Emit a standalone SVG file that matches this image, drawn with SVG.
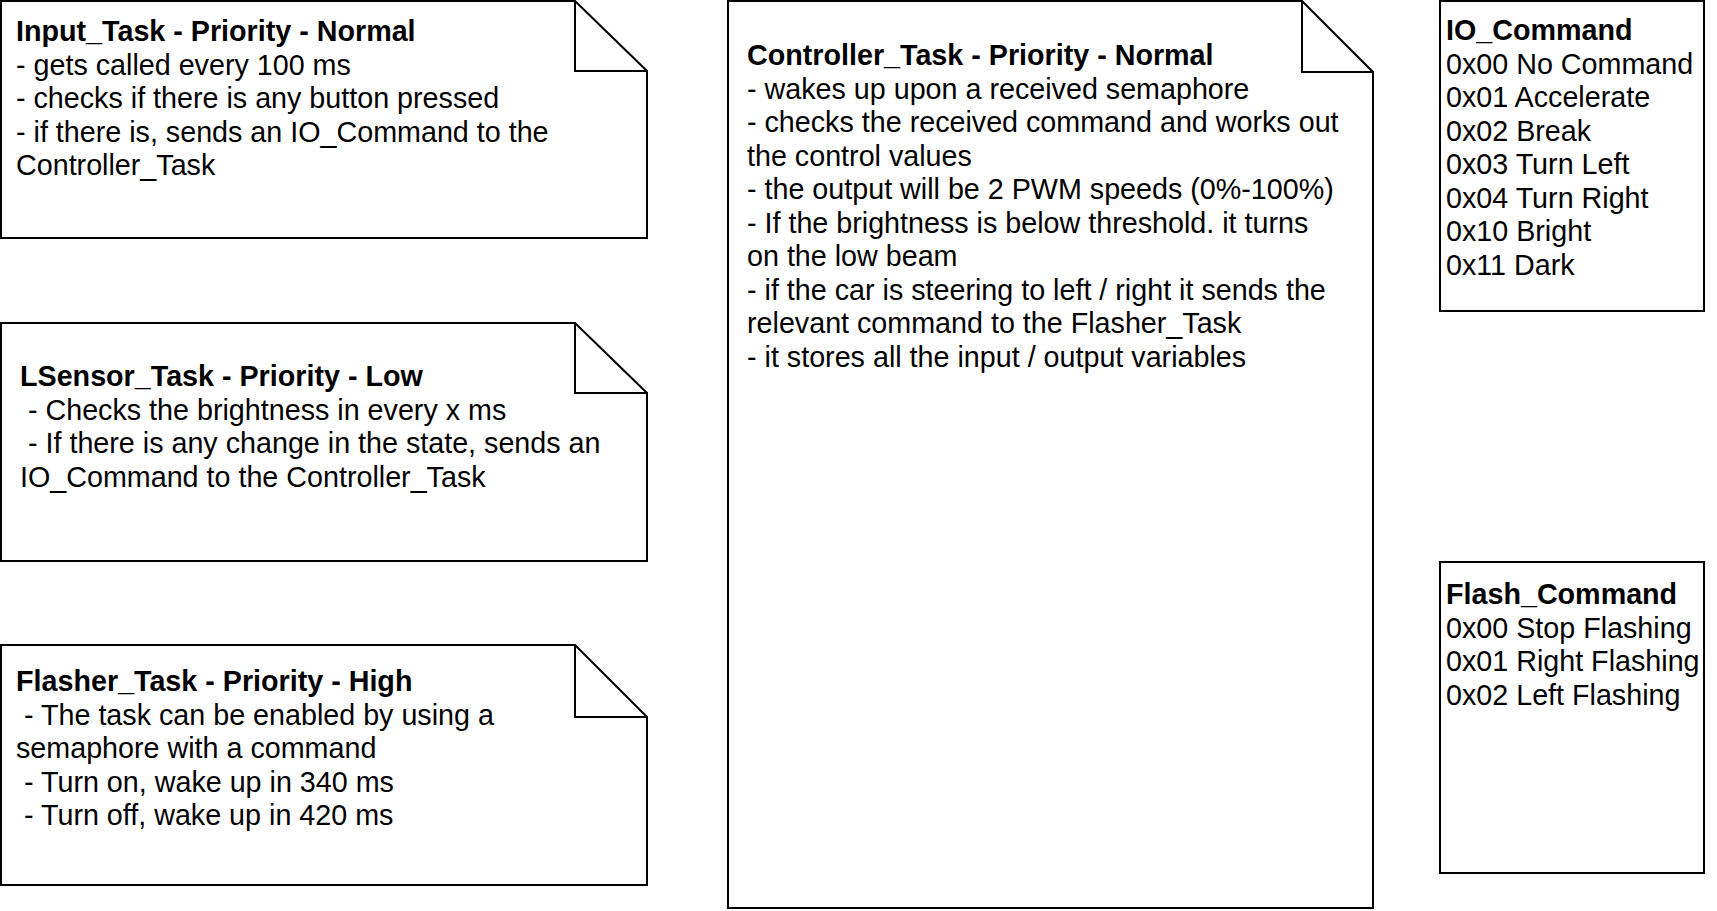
<svg xmlns="http://www.w3.org/2000/svg" width="1717" height="911" viewBox="0 0 1717 911">
<style>
.shape{fill:#fff;stroke:#000;stroke-width:2;stroke-linejoin:miter}
.fold{fill:none;stroke:#000;stroke-width:2}
text{font-family:"Liberation Sans",Arial,Helvetica,sans-serif;font-size:28.7px;fill:#000;white-space:pre}
.b{font-weight:bold}
</style>
<rect width="1717" height="911" fill="#fff"/>
<g id="connectors"></g>
<g id="input_task">
<path class="shape" d="M1,1 H575 L647,71 V238 H1 Z"/>
<path class="fold" d="M575,1 V71 H647"/>
<text x="16" y="41" class="b">Input_Task - Priority - Normal</text>
<text x="16" y="74.5">- gets called every 100 ms</text>
<text x="16" y="108">- checks if there is any button pressed</text>
<text x="16" y="141.5">- if there is, sends an IO_Command to the</text>
<text x="16" y="175">Controller_Task</text>
</g>
<g id="lsensor_task">
<path class="shape" d="M1,323 H575 L647,393 V561 H1 Z"/>
<path class="fold" d="M575,323 V393 H647"/>
<text x="20" y="386" class="b">LSensor_Task - Priority - Low</text>
<text x="20" y="419.5" xml:space="preserve"> - Checks the brightness in every x ms</text>
<text x="20" y="453" xml:space="preserve"> - If there is any change in the state, sends an</text>
<text x="20" y="486.5">IO_Command to the Controller_Task</text>
</g>
<g id="flasher_task">
<path class="shape" d="M1,645 H575 L647,717 V885 H1 Z"/>
<path class="fold" d="M575,645 V717 H647"/>
<text x="16" y="691" class="b">Flasher_Task - Priority - High</text>
<text x="16" y="724.5" xml:space="preserve"> - The task can be enabled by using a</text>
<text x="16" y="758">semaphore with a command</text>
<text x="16" y="791.5" xml:space="preserve"> - Turn on, wake up in 340 ms</text>
<text x="16" y="825" xml:space="preserve"> - Turn off, wake up in 420 ms</text>
</g>
<g id="controller_task">
<path class="shape" d="M728,1 H1302 L1373,72 V908 H728 Z"/>
<path class="fold" d="M1302,1 V72 H1373"/>
<text x="747" y="65" class="b">Controller_Task - Priority - Normal</text>
<text x="747" y="98.5">- wakes up upon a received semaphore</text>
<text x="747" y="132">- checks the received command and works out</text>
<text x="747" y="165.5">the control values</text>
<text x="747" y="199">- the output will be 2 PWM speeds (0%-100%)</text>
<text x="747" y="232.5">- If the brightness is below threshold. it turns</text>
<text x="747" y="266">on the low beam</text>
<text x="747" y="299.5">- if the car is steering to left / right it sends the</text>
<text x="747" y="333">relevant command to the Flasher_Task</text>
<text x="747" y="366.5">- it stores all the input / output variables</text>
</g>
<g id="io_command">
<rect class="shape" x="1440" y="1" width="264" height="310"/>
<text x="1446" y="40" class="b">IO_Command</text>
<text x="1446" y="73.5">0x00 No Command</text>
<text x="1446" y="107">0x01 Accelerate</text>
<text x="1446" y="140.5">0x02 Break</text>
<text x="1446" y="174">0x03 Turn Left</text>
<text x="1446" y="207.5">0x04 Turn Right</text>
<text x="1446" y="241">0x10 Bright</text>
<text x="1446" y="274.5">0x11 Dark</text>
</g>
<g id="flash_command">
<rect class="shape" x="1440" y="562" width="264" height="311"/>
<text x="1446" y="604" class="b">Flash_Command</text>
<text x="1446" y="637.5">0x00 Stop Flashing</text>
<text x="1446" y="671">0x01 Right Flashing</text>
<text x="1446" y="704.5">0x02 Left Flashing</text>
</g>
</svg>
